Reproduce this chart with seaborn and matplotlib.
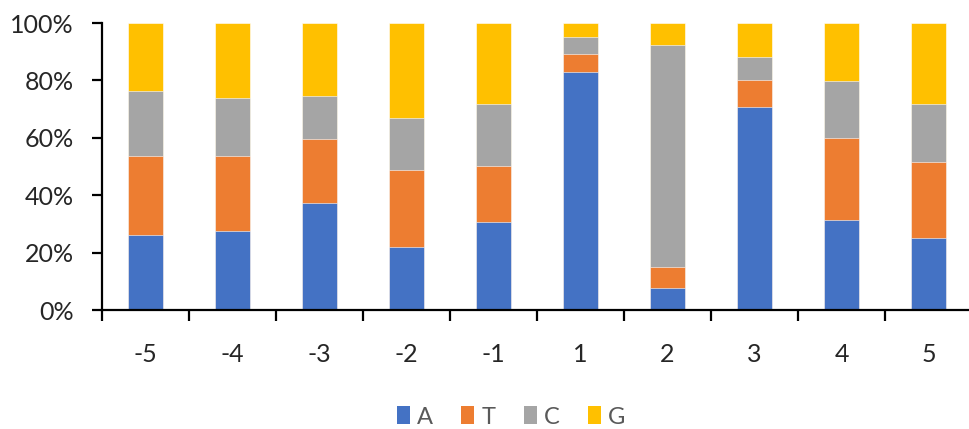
import numpy as np
import pandas as pd
import matplotlib
matplotlib.use("Agg")
import matplotlib.pyplot as plt
import seaborn as sns
from matplotlib.patches import Patch
from matplotlib.ticker import PercentFormatter

# Nucleotide composition (%) at each position around the site
positions = ["-5", "-4", "-3", "-2", "-1", "1", "2", "3", "4", "5"]
pct_A = [26.0, 27.4, 37.3, 22.0, 30.8, 82.8, 7.7, 70.9, 31.4, 25.0]
pct_T = [27.6, 26.2, 22.2, 26.7, 19.3, 6.4, 7.4, 9.3, 28.6, 26.6]
pct_C = [22.7, 20.2, 15.2, 18.2, 21.8, 5.9, 77.4, 7.9, 19.8, 20.3]
pct_G = [23.7, 26.2, 25.3, 33.1, 28.1, 4.9, 7.5, 11.9, 20.2, 28.1]

bases = ["A", "T", "C", "G"]
colors = {"A": "#4472C4", "T": "#ED7D31", "C": "#A5A5A5", "G": "#FFC000"}

df = pd.DataFrame({"position": positions, "A": pct_A, "T": pct_T,
                   "C": pct_C, "G": pct_G})
# normalise each position to 100 %
tot = df[bases].sum(axis=1)
for b in bases:
    df[b] = df[b] / tot * 100
cum = df[bases].cumsum(axis=1)

sns.set_style("white")
plt.rcParams["font.family"] = ["Lato", "DejaVu Sans"]

W, H = 970, 429
fig = plt.figure(figsize=(W / 100, H / 100), dpi=100)
ax = fig.add_axes([102 / W, (H - 310) / H, 870 / W, 287 / H])

# stacked bars: draw cumulative totals from the top layer down
for b in reversed(bases):
    sns.barplot(x=df["position"], y=cum[b], order=positions, color=colors[b],
                width=0.4, saturation=1, edgecolor="white", linewidth=0.4,
                ax=ax)

ax.set_xlim(-0.5, 9.5)
ax.set_ylim(0, 100)
ax.set_xlabel("")
ax.set_ylabel("")
ax.yaxis.set_major_formatter(PercentFormatter(decimals=0))
ax.set_yticks(np.arange(0, 101, 20))

for s in ["top", "right"]:
    ax.spines[s].set_visible(False)
for s in ["left", "bottom"]:
    ax.spines[s].set_linewidth(1.6)
    ax.spines[s].set_color("black")

ax.set_xticks(np.arange(-0.5, 10, 1), minor=True)
ax.tick_params(axis="x", which="major", length=0, pad=24,
               labelsize=18, labelcolor="#262626")
ax.tick_params(axis="x", which="minor", direction="out", length=8,
               width=1.6, color="black", bottom=True)
ax.tick_params(axis="y", direction="out", length=7.5, width=1.6,
               color="black", pad=13, labelsize=18, labelcolor="#262626",
               left=True)

handles = [Patch(facecolor=colors[b], edgecolor="none", label=b) for b in bases]
fig.legend(handles=handles, loc="center", ncol=4,
           bbox_to_anchor=(511 / W, 1 - 417 / H), frameon=False,
           fontsize=17, labelcolor="#595959", handlelength=0.55,
           handleheight=0.8, handletextpad=0.3, columnspacing=1.2)

fig.savefig("out.png", dpi=100)
